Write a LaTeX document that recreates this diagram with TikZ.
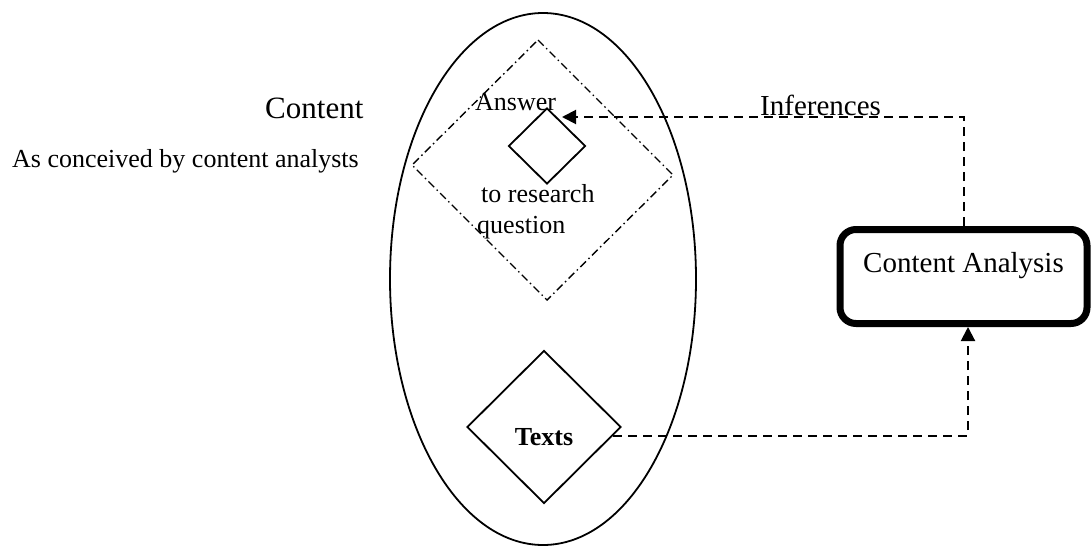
\documentclass[tikz,border=0pt]{standalone}
\usepackage{fontspec}
\setmainfont{Liberation Serif}
\usetikzlibrary{shapes.geometric,arrows.meta}
\begin{document}
\begin{tikzpicture}[x=1pt,y=-1pt,
  solidline/.style={line width=1.8pt},
  conn/.style={line width=2pt, dash pattern=on 9pt off 6pt, -{Triangle[length=14pt,width=14pt]}},
  dashdot/.style={line width=1.4pt, dash pattern=on 8pt off 3.5pt on 1.5pt off 3.5pt},
  txt/.style={inner sep=0pt, anchor=base west},
  small/.style={font=\fontsize{26}{30}\selectfont},
  big/.style={font=\fontsize{29}{33}\selectfont},
  diam/.style={diamond, draw, solidline, inner sep=0pt, aspect=1}
]
\useasboundingbox (0,0) rectangle (1091,546);
% outer ellipse
\node[ellipse, draw, solidline, minimum width=306pt, minimum height=532pt, inner sep=0pt] (ell) at (543,279) {};
% dash-dot diamond
\coordinate (dt) at (538,40);
\coordinate (dr) at (673,175);
\coordinate (db) at (547,300);
\coordinate (dl) at (412,165);
\draw[dashdot] (dt) -- (dr) -- (db) -- (dl) -- cycle;
% small answer diamond
\node[diam, minimum width=77pt, minimum height=76pt] (ans) at (547,146) {};
% texts diamond
\node[diam, minimum width=154pt, minimum height=153pt, font=\fontsize{26}{30}\selectfont\bfseries, text height=36pt, text depth=0pt] (texts) at (544,427) {Texts};
% content analysis box
\node[draw, line width=7pt, rounded corners=16pt, minimum width=247pt, minimum height=94pt, big, text height=20pt, text depth=29pt, inner sep=0pt] (ca) at (963.5,276.5) {Content Analysis};
% texts
\node[txt, font=\fontsize{31}{35}\selectfont] (content) at (265,118) {Content};
\node[txt, small] (conceived) at (12,167) {As conceived by content analysts};
\node[txt, small] (answer) at (475,110) {Answer};
\node[txt, small] (toresearch) at (481,202) {to research};
\node[txt, small] (question) at (477,233) {question};
\node[txt, big] (inferences) at (760,115) {Inferences};
% connectors
\coordinate (anstip) at (562,117);
\draw[conn] (ca.north) -- (ca.north |- anstip) -- (anstip);
\draw[conn] (texts.-7) -| ([xshift=4.5pt]ca.south);
\end{tikzpicture}
\end{document}
